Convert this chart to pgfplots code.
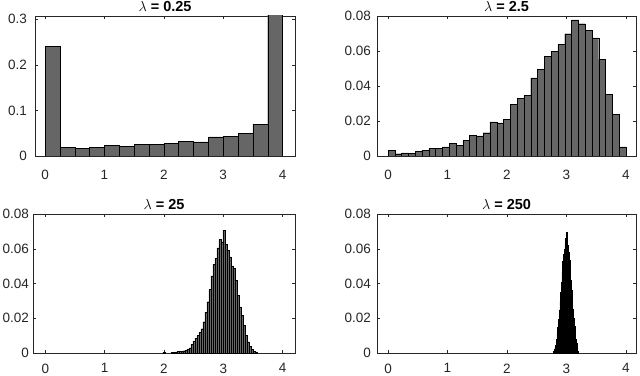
\documentclass[border=0pt]{standalone}
\usepackage{fontspec}
\setmainfont{Liberation Sans}
\usepackage{pgfplots}
\pgfplotsset{compat=1.18}
\definecolor{axgray}{RGB}{38,38,38}
\definecolor{barfill}{RGB}{102,102,102}

\pgfplotsset{
  histax/.style={
    scale only axis, anchor=south west,
    ymin=0, xtick={0,1,2,3,4}, xticklabels={0,1,2,3,4},
    tick align=inside, major tick length=3pt,
    axis line style={draw=axgray, line width=0.5pt},
    tick style={draw=axgray, line width=0.5pt},
    tick label style={font=\fontsize{13.5}{15}\selectfont, text=black!85, inner sep=0pt},
    xticklabel style={anchor=north, yshift=-10.5pt},
    yticklabel style={anchor=east, xshift=-6pt},
    % the default title style already shifts up by 6pt
    title style={at={(0.5,1)}, anchor=base, yshift=-1.5pt, inner sep=0pt,
      font=\bfseries\fontsize{14.5}{16}\selectfont},
    scaled y ticks=false,
  },
  histbar/.style={ybar, bar shift=0pt, bar width=#1, fill=barfill, draw=black, line width=0.35pt},
}

\begin{document}
\begin{tikzpicture}
\useasboundingbox (0,0) rectangle (640pt,375pt);

% lambda = 0.25
\begin{axis}[histax, at={(35pt,219pt)}, width=260pt, height=140pt,
  xmin=-0.17, xmax=4.21, ymax=0.307,
  ytick={0,0.1,0.2,0.3}, yticklabels={0,0.1,0.2,0.3},
  yticklabel style={xshift=-2pt}, xticklabel style={yshift=-3.5pt},
  title={$\lambda$ = 0.25}]
\addplot[histbar=0.25] coordinates {
(0.125,0.24) (0.375,0.0196) (0.625,0.0174) (0.875,0.0196)
(1.125,0.0232) (1.375,0.0217) (1.625,0.0261) (1.875,0.0261)
(2.125,0.0275) (2.375,0.0326) (2.625,0.0312) (2.875,0.042)
(3.125,0.0435) (3.375,0.050) (3.625,0.070) (3.875,0.33)};
\end{axis}

% lambda = 2.5
\begin{axis}[histax, at={(377pt,219pt)}, width=259pt, height=140pt,
  xmin=-0.185, xmax=4.17, ymax=0.08,
  ytick={0,0.02,0.04,0.06,0.08}, yticklabels={0,0.02,0.04,0.06,0.08},
  xticklabel style={yshift=-3.5pt},
  title={$\lambda$ = 2.5}]
\addplot[histbar=0.11429] coordinates {
(0.0571,0.0031) (0.1714,0.0013) (0.2857,0.0018) (0.4000,0.0017)
(0.5143,0.0025) (0.6286,0.0032) (0.7429,0.0042) (0.8571,0.0042)
(0.9714,0.0052) (1.0857,0.0074) (1.2000,0.0059) (1.3143,0.0088)
(1.4286,0.0117) (1.5429,0.0115) (1.6571,0.0133) (1.7714,0.0195)
(1.8857,0.0190) (2.0000,0.0211) (2.1143,0.0297) (2.2286,0.0330)
(2.3429,0.0348) (2.4571,0.0447) (2.5714,0.0494) (2.6857,0.0570)
(2.8000,0.0597) (2.9143,0.0638) (3.0286,0.0699) (3.1429,0.0778)
(3.2571,0.0756) (3.3714,0.0718) (3.4857,0.0675) (3.6000,0.0554)
(3.7143,0.0354) (3.8286,0.0240) (3.9429,0.0052)};
\end{axis}

% lambda = 25
\begin{axis}[histax, at={(33pt,22pt)}, width=262pt, height=139pt,
  xmin=-0.21, xmax=4.21, ymax=0.08,
  ytick={0,0.02,0.04,0.06,0.08}, yticklabels={0,0.02,0.04,0.06,0.08},
  yticklabel style={xshift=2pt},
  title={$\lambda$ = 25}]
\addplot[histbar=0.0338] coordinates {
(1.996,0.0005) (2.131,0.0004) (2.165,0.0005)
(2.199,0.0006) (2.233,0.0008) (2.267,0.0010) (2.300,0.0011)
(2.334,0.0013) (2.368,0.0017) (2.402,0.0021) (2.436,0.0030)
(2.469,0.0050) (2.503,0.0068) (2.537,0.0085) (2.571,0.0100)
(2.605,0.0118) (2.638,0.0140) (2.672,0.0180) (2.706,0.0235)
(2.740,0.0295) (2.774,0.0368) (2.807,0.0444) (2.841,0.0510)
(2.875,0.0544) (2.909,0.0605) (2.943,0.0655) (2.976,0.0640)
(3.010,0.0707) (3.044,0.0625) (3.078,0.0592) (3.112,0.0554)
(3.145,0.0502) (3.179,0.0487) (3.213,0.0420) (3.247,0.0333)
(3.281,0.0266) (3.314,0.0215) (3.348,0.0161) (3.382,0.0103)
(3.416,0.0065) (3.450,0.0038) (3.483,0.0023) (3.517,0.0011)
(3.551,0.0006)};
\end{axis}

% lambda = 250
\begin{axis}[histax, at={(377pt,22pt)}, width=259pt, height=139pt,
  xmin=-0.185, xmax=4.17, ymax=0.08,
  ytick={0,0.02,0.04,0.06,0.08}, yticklabels={0,0.02,0.04,0.06,0.08},
  title={$\lambda$ = 250}]
\addplot[histbar=0.012] coordinates {
(2.786,0.0009) (2.798,0.0021) (2.810,0.0034) (2.822,0.0047)
(2.834,0.0080) (2.846,0.0116) (2.858,0.0151) (2.870,0.0197)
(2.882,0.0248) (2.894,0.0299) (2.906,0.0350) (2.918,0.0408)
(2.930,0.0467) (2.942,0.0526) (2.954,0.0567) (2.966,0.0598)
(2.978,0.0630) (2.990,0.0661) (3.002,0.0693) (3.014,0.0659)
(3.026,0.0619) (3.038,0.0579) (3.050,0.0536) (3.062,0.0477)
(3.074,0.0418) (3.086,0.0359) (3.098,0.0306) (3.110,0.0254)
(3.122,0.0202) (3.134,0.0155) (3.146,0.0121) (3.158,0.0082)
(3.170,0.0054) (3.182,0.0031) (3.194,0.0009)};
\end{axis}
\end{tikzpicture}
\end{document}
